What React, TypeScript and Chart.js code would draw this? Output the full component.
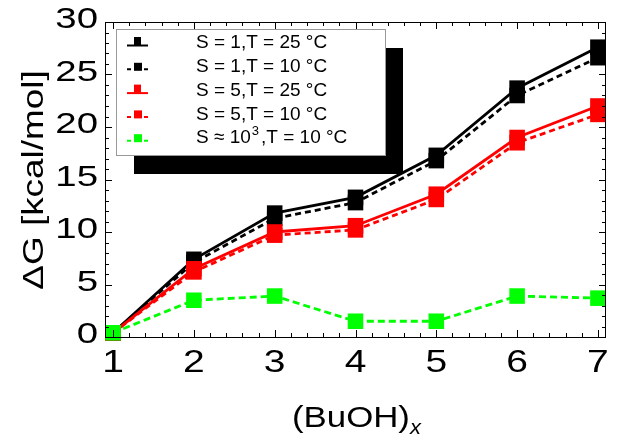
import React, { useEffect, useRef } from "react";
import { Chart, registerables } from "chart.js";

Chart.register(...registerables);

// ---- data ----
const xValues = [1, 2, 3, 4, 5, 6, 7];
const s1T25 = [0.4, 7.4, 11.8, 13.3, 17.3, 23.7, 27.6];
const s1T10 = [0.4, 7.1, 11.3, 12.8, 16.8, 23.0, 26.6];
const s5T25 = [0.4, 6.5, 10.0, 10.6, 13.6, 19.0, 22.0];
const s5T10 = [0.4, 6.2, 9.7, 10.2, 13.1, 18.5, 21.2];
const s1000T10 = [0.4, 3.5, 3.9, 1.5, 1.5, 3.9, 3.7];

const seriesLabels = [
  "S = 1,T = 25 °C",
  "S = 1,T = 10 °C",
  "S = 5,T = 25 °C",
  "S = 5,T = 10 °C",
  "S ≈ 10^3,T = 10 °C",
];
const xTickLabels = ["1", "2", "3", "4", "5", "6", "7"];
const yTickLabels = ["0", "5", "10", "15", "20", "25", "30"];
const yTitle = "ΔG [kcal/mol]";
const xTitle = "(BuOH)";
const xTitleSub = "x";

const FONT = "'Liberation Sans', Arial, sans-serif";

const seriesStyles = [
  { color: "#000000", dash: [] as number[], order: 5 },
  { color: "#000000", dash: [6, 4], order: 4 },
  { color: "#ff0000", dash: [] as number[], order: 3 },
  { color: "#ff0000", dash: [6, 4], order: 2 },
  { color: "#00ff00", dash: [7, 4], order: 1 },
];
const seriesValues = [s1T25, s1T10, s5T25, s5T10, s1000T10];

function stretchText(
  ctx: CanvasRenderingContext2D,
  text: string,
  x: number,
  y: number,
  sx: number,
  align: CanvasTextAlign,
  baseline: CanvasTextBaseline,
  rot = 0
) {
  ctx.save();
  ctx.translate(x, y);
  if (rot) ctx.rotate(rot);
  ctx.scale(sx, 1);
  ctx.textAlign = align;
  ctx.textBaseline = baseline;
  ctx.fillText(text, 0, 0);
  ctx.restore();
}

const framePlugin = {
  id: "framePlugin",
  afterDraw(chart: any) {
    const ctx: CanvasRenderingContext2D = chart.ctx;
    const { left, right, top, bottom } = chart.chartArea;
    const xs = chart.scales.x;
    const ys = chart.scales.y;
    ctx.save();
    // frame
    ctx.strokeStyle = "#000";
    ctx.lineWidth = 1;
    ctx.strokeRect(Math.round(left) + 0.5, Math.round(top) + 0.5, Math.round(right - left) - 1, Math.round(bottom - top));
    // y ticks
    ctx.beginPath();
    for (let v = 0; v <= 30; v += 1) {
      const y = Math.round(ys.getPixelForValue(v)) + 0.5;
      const len = v % 5 === 0 ? 7 : 4;
      ctx.moveTo(left, y);
      ctx.lineTo(left + len, y);
      ctx.moveTo(right, y);
      ctx.lineTo(right - len, y);
    }
    // x ticks
    for (let i = 5; i <= 35; i += 1) {
      const v = i / 5;
      const x = Math.round(xs.getPixelForValue(v)) + 0.5;
      const len = i % 5 === 0 ? 7 : 4;
      ctx.moveTo(x, bottom);
      ctx.lineTo(x, bottom - len);
      ctx.moveTo(x, top);
      ctx.lineTo(x, top + len);
    }
    ctx.stroke();

    // tick labels
    ctx.fillStyle = "#000";
    ctx.font = `30px ${FONT}`;
    yTickLabels.forEach((lab) => {
      const y = ys.getPixelForValue(Number(lab));
      stretchText(ctx, lab, 98, y - 2, 1.28, "right", "middle");
    });
    ctx.font = `32px ${FONT}`;
    xTickLabels.forEach((lab) => {
      const x = xs.getPixelForValue(Number(lab));
      stretchText(ctx, lab, x, 363, 1.22, "center", "middle");
    });

    // axis titles
    ctx.font = `30px ${FONT}`;
    stretchText(ctx, yTitle, 43, 180, 1.23, "center", "alphabetic", -Math.PI / 2);
    ctx.font = `30px ${FONT}`;
    stretchText(ctx, xTitle, 292, 427, 1.16, "left", "alphabetic");
    ctx.font = `italic 20px ${FONT}`;
    stretchText(ctx, xTitleSub, 410, 434, 1.1, "left", "alphabetic");

    // legend: shadow + box
    const bx = 116, by = 29, bw = 269, bh = 126;
    ctx.fillStyle = "#000";
    ctx.fillRect(bx + 18, by + 19, bw, bh);
    ctx.fillStyle = "#fff";
    ctx.fillRect(bx, by, bw, bh);
    ctx.strokeStyle = "#999";
    ctx.lineWidth = 1;
    ctx.strokeRect(bx + 0.5, by + 0.5, bw, bh);

    seriesLabels.forEach((lab, i) => {
      const st = seriesStyles[i];
      const ry = by + 14 + i * 23.8;
      ctx.fillStyle = st.color;
      ctx.strokeStyle = st.color;
      ctx.lineWidth = 2;
      if (st.dash.length === 0) {
        ctx.beginPath();
        ctx.moveTo(127, ry + 2.5);
        ctx.lineTo(148, ry + 2.5);
        ctx.stroke();
        ctx.fillRect(134, ry - 6, 7, 8);
      } else {
        ctx.beginPath();
        ctx.moveTo(127, ry + 2.5);
        ctx.lineTo(131, ry + 2.5);
        ctx.moveTo(144, ry + 2.5);
        ctx.lineTo(148, ry + 2.5);
        ctx.stroke();
        ctx.fillRect(134, ry - 4, 8, 8);
      }
      ctx.fillStyle = "#000";
      ctx.textAlign = "left";
      ctx.textBaseline = "middle";
      const m = lab.match(/^(.*)\^(\d+)(.*)$/);
      if (m) {
        ctx.font = `19px ${FONT}`;
        ctx.fillText(m[1], 196, ry);
        let x = 196 + ctx.measureText(m[1]).width + 1;
        ctx.font = `13px ${FONT}`;
        ctx.fillText(m[2], x, ry - 7);
        x += ctx.measureText(m[2]).width + 2;
        ctx.font = `19px ${FONT}`;
        ctx.fillText(m[3], x, ry);
      } else {
        ctx.font = `19px ${FONT}`;
        ctx.fillText(lab, 196, ry);
      }
    });
    ctx.restore();
  },
};

export default function App() {
  const ref = useRef<HTMLCanvasElement | null>(null);
  useEffect(() => {
    if (!ref.current) return;
    const datasets = seriesValues.map((vals, i) => ({
      label: seriesLabels[i],
      data: xValues.map((x, j) => ({ x, y: vals[j] })),
      borderColor: seriesStyles[i].color,
      backgroundColor: seriesStyles[i].color,
      borderWidth: 2.8,
      borderDash: seriesStyles[i].dash,
      pointStyle: "rect" as const,
      pointRadius: 11,
      pointBorderWidth: 0,
      pointBackgroundColor: seriesStyles[i].color,
      showLine: true,
      tension: 0,
      clip: false as any,
      order: seriesStyles[i].order,
    }));
    const chart = new Chart(ref.current, {
      type: "line",
      data: { datasets },
      options: {
        animation: false,
        responsive: false,
        layout: { padding: { left: 105, right: 1, top: 22, bottom: 100 } },
        scales: {
          x: { type: "linear", min: 0.9, max: 7.1, display: false },
          y: { type: "linear", min: 0, max: 30, display: false },
        },
        plugins: { legend: { display: false }, tooltip: { enabled: false } },
      },
      plugins: [framePlugin],
    });
    return () => chart.destroy();
  }, []);
  return (
    <div style={{ position: "fixed", left: 0, top: 0, width: 617, height: 437, background: "#fff" }}>
      <canvas ref={ref} width={617} height={437} style={{ width: 617, height: 437, display: "block" }} />
    </div>
  );
}
